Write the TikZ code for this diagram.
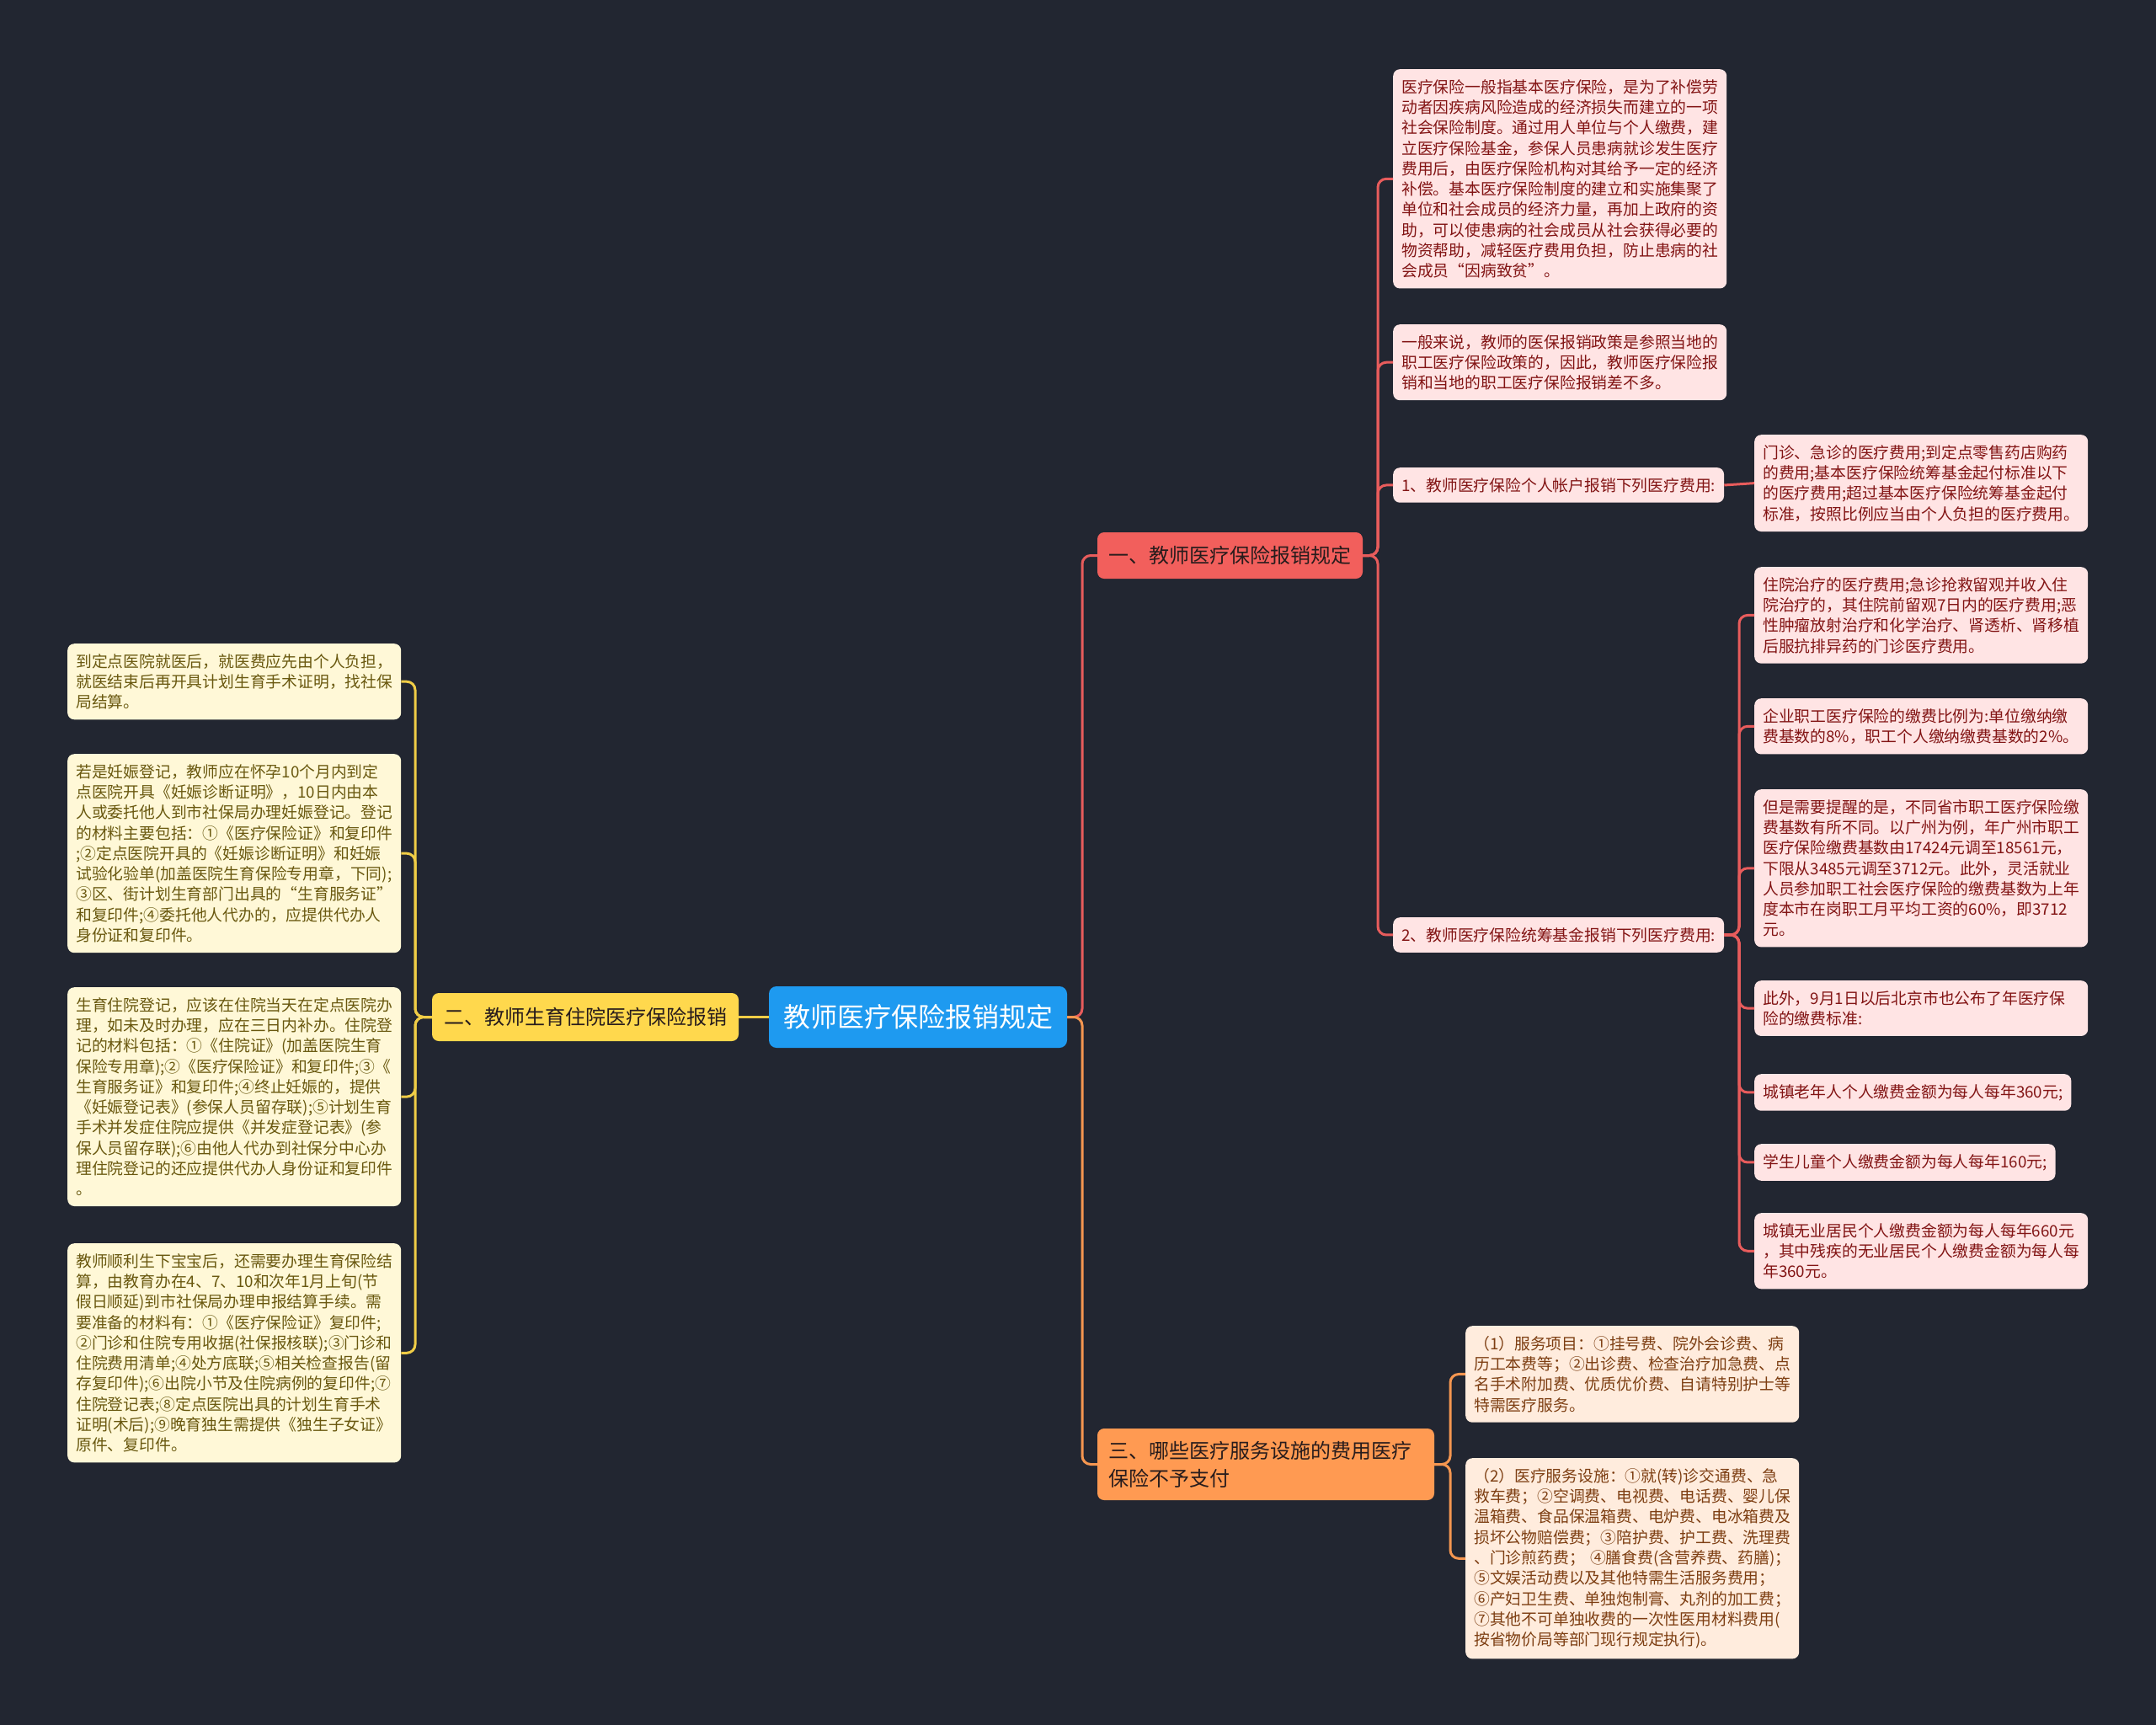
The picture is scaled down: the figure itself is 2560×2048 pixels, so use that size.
\documentclass[tikz,border=0pt]{standalone}
\usepackage{fontspec}
\setmainfont{Noto Sans CJK SC}
\definecolor{bg}{RGB}{34,38,49}
\definecolor{cblue}{RGB}{30,154,240}
\definecolor{bred}{RGB}{242,95,92}
\definecolor{byellow}{RGB}{255,216,77}
\definecolor{borange}{RGB}{255,154,82}
\definecolor{pinkf}{RGB}{255,228,228}
\definecolor{pinkt}{RGB}{130,20,20}
\definecolor{peachf}{RGB}{255,236,221}
\definecolor{peacht}{RGB}{125,62,18}
\definecolor{creamf}{RGB}{255,248,215}
\definecolor{creamt}{RGB}{105,88,15}
\definecolor{lred}{RGB}{232,92,92}
\definecolor{lorange}{RGB}{245,150,80}
\definecolor{lyellow}{RGB}{240,205,70}
\definecolor{darktxt}{RGB}{40,28,28}
\begin{document}
\begin{tikzpicture}[x=1pt,y=-1pt,
  leaf/.style={draw=none, rounded corners=8pt, inner xsep=10pt, inner ysep=12pt, align=left, anchor=north west, font=\fontsize{18.8}{24.3}\selectfont},
  pinkleaf/.style={leaf, fill=pinkf, text=pinkt},
  peachleaf/.style={leaf, fill=peachf, text=peacht},
  creamleaf/.style={leaf, fill=creamf, text=creamt},
  wide/.style={text width=376pt},
  branch/.style={rounded corners=8pt, inner sep=0pt, text=darktxt, font=\fontsize{24}{33}\selectfont},
  conn/.style={line width=3pt, rounded corners=10pt}
]
\fill[bg] (0,0) rectangle (2560,2048);
\useasboundingbox (0,0) rectangle (2560,2048);

% center and main branches
\node[rounded corners=9pt, fill=cblue, text=white, minimum width=354pt, minimum height=73pt, inner sep=0pt, font=\fontsize{32}{36}\selectfont] (center) at (1090,1207.5) {教师医疗保险报销规定};
\node[branch, fill=bred, minimum width=315pt, minimum height=55pt] (b1) at (1460.5,659.5) {一、教师医疗保险报销规定};
\node[branch, fill=byellow, minimum width=364pt, minimum height=57pt] (b2) at (695,1207.5) {二、教师生育住院医疗保险报销};
\node[branch, fill=borange, minimum height=85pt, text width=374pt, inner xsep=13pt, align=left] (b3) at (1503,1738.5) {三、哪些医疗服务设施的费用医疗\\保险不予支付};

% trunk coordinates
\coordinate (tc) at (1285,0);
\coordinate (t1) at (1636,0);
\coordinate (t11) at (2065,0);
\coordinate (t3) at (1722,0);
\coordinate (t2) at (493,0);

% branch 1 children
\node[pinkleaf, wide] (c1a) at (1654,82) {医疗保险一般指基本医疗保险，是为了补偿劳\\动者因疾病风险造成的经济损失而建立的一项\\社会保险制度。通过用人单位与个人缴费，建\\立医疗保险基金，参保人员患病就诊发生医疗\\费用后，由医疗保险机构对其给予一定的经济\\补偿。基本医疗保险制度的建立和实施集聚了\\单位和社会成员的经济力量，再加上政府的资\\助，可以使患病的社会成员从社会获得必要的\\物资帮助，减轻医疗费用负担，防止患病的社\\会成员“因病致贫”。};
\node[pinkleaf, wide] (c1b) at (1654,385) {一般来说，教师的医保报销政策是参照当地的\\职工医疗保险政策的，因此，教师医疗保险报\\销和当地的职工医疗保险报销差不多。};
\node[pinkleaf] (c1c) at (1654,555) {1、教师医疗保险个人帐户报销下列医疗费用:};
\node[pinkleaf, wide] (c1cx) at (2083,516) {门诊、急诊的医疗费用;到定点零售药店购药\\的费用;基本医疗保险统筹基金起付标准以下\\的医疗费用;超过基本医疗保险统筹基金起付\\标准，按照比例应当由个人负担的医疗费用。};
\node[pinkleaf] (c1d) at (1654,1089) {2、教师医疗保险统筹基金报销下列医疗费用:};

\node[pinkleaf, wide] (d1) at (2083,673) {住院治疗的医疗费用;急诊抢救留观并收入住\\院治疗的，其住院前留观7日内的医疗费用;恶\\性肿瘤放射治疗和化学治疗、肾透析、肾移植\\后服抗排异药的门诊医疗费用。};
\node[pinkleaf, wide] (d2) at (2083,829) {企业职工医疗保险的缴费比例为:单位缴纳缴\\费基数的8\%，职工个人缴纳缴费基数的2\%。};
\node[pinkleaf, wide] (d3) at (2083,937) {但是需要提醒的是，不同省市职工医疗保险缴\\费基数有所不同。以广州为例，年广州市职工\\医疗保险缴费基数由17424元调至18561元，\\下限从3485元调至3712元。此外，灵活就业\\人员参加职工社会医疗保险的缴费基数为上年\\度本市在岗职工月平均工资的60\%，即3712\\元。};
\node[pinkleaf, wide] (d4) at (2083,1164) {此外，9月1日以后北京市也公布了年医疗保\\险的缴费标准:};
\node[pinkleaf] (d5) at (2083,1275) {城镇老年人个人缴费金额为每人每年360元;};
\node[pinkleaf] (d6) at (2083,1358) {学生儿童个人缴费金额为每人每年160元;};
\node[pinkleaf, wide] (d7) at (2083,1440) {城镇无业居民个人缴费金额为每人每年660元\\，其中残疾的无业居民个人缴费金额为每人每\\年360元。};

% branch 3 children
\node[peachleaf, wide] (e1) at (1740,1574) {（1）服务项目：①挂号费、院外会诊费、病\\历工本费等；②出诊费、检查治疗加急费、点\\名手术附加费、优质优价费、自请特别护士等\\特需医疗服务。};
\node[peachleaf, wide] (e2) at (1740,1731) {（2）医疗服务设施：①就(转)诊交通费、急\\救车费；②空调费、电视费、电话费、婴儿保\\温箱费、食品保温箱费、电炉费、电冰箱费及\\损坏公物赔偿费；③陪护费、护工费、洗理费\\、门诊煎药费；~④膳食费(含营养费、药膳)；\\⑤文娱活动费以及其他特需生活服务费用；\\⑥产妇卫生费、单独炮制膏、丸剂的加工费；\\⑦其他不可单独收费的一次性医用材料费用(\\按省物价局等部门现行规定执行)。};

% branch 2 children
\node[creamleaf, wide] (f1) at (80,764) {到定点医院就医后，就医费应先由个人负担，\\就医结束后再开具计划生育手术证明，找社保\\局结算。};
\node[creamleaf, wide] (f2) at (80,895) {若是妊娠登记，教师应在怀孕10个月内到定\\点医院开具《妊娠诊断证明》，10日内由本\\人或委托他人到市社保局办理妊娠登记。登记\\的材料主要包括：①《医疗保险证》和复印件\\;②定点医院开具的《妊娠诊断证明》和妊娠\\试验化验单(加盖医院生育保险专用章，下同);\\③区、街计划生育部门出具的“生育服务证”\\和复印件;④委托他人代办的，应提供代办人\\身份证和复印件。};
\node[creamleaf, wide] (f3) at (80,1172) {生育住院登记，应该在住院当天在定点医院办\\理，如未及时办理，应在三日内补办。住院登\\记的材料包括：①《住院证》(加盖医院生育\\保险专用章);②《医疗保险证》和复印件;③《\\生育服务证》和复印件;④终止妊娠的，提供\\《妊娠登记表》(参保人员留存联);⑤计划生育\\手术并发症住院应提供《并发症登记表》(参\\保人员留存联);⑥由他人代办到社保分中心办\\理住院登记的还应提供代办人身份证和复印件\\。};
\node[creamleaf, wide] (f4) at (80,1476) {教师顺利生下宝宝后，还需要办理生育保险结\\算，由教育办在4、7、10和次年1月上旬(节\\假日顺延)到市社保局办理申报结算手续。需\\要准备的材料有：①《医疗保险证》复印件;\\②门诊和住院专用收据(社保报核联);③门诊和\\住院费用清单;④处方底联;⑤相关检查报告(留\\存复印件);⑥出院小节及住院病例的复印件;⑦\\住院登记表;⑧定点医院出具的计划生育手术\\证明(术后);⑨晚育独生需提供《独生子女证》\\原件、复印件。};

% connectors
\draw[conn, lred] (center.east) -- (center.east -| tc) |- (b1.west);
\draw[conn, lorange] (center.east) -- (center.east -| tc) |- (b3.west);
\draw[conn, lyellow] (center.west) -- (b2.east);
\foreach \c in {c1a,c1b,c1c,c1d}
  \draw[conn, lred] (b1.east) -- (b1.east -| t1) |- (\c.west);
\draw[conn, lred] (c1c.east) -- (c1cx.west);
\foreach \c in {d1,d2,d3,d4,d5,d6,d7}
  \draw[conn, lred] (c1d.east) -- (c1d.east -| t11) |- (\c.west);
\foreach \c in {e1,e2}
  \draw[conn, lorange] (b3.east) -- (b3.east -| t3) |- (\c.west);
\foreach \c in {f1,f2,f3,f4}
  \draw[conn, lyellow] (b2.west) -- (b2.west -| t2) |- (\c.east);
\end{tikzpicture}
\end{document}
